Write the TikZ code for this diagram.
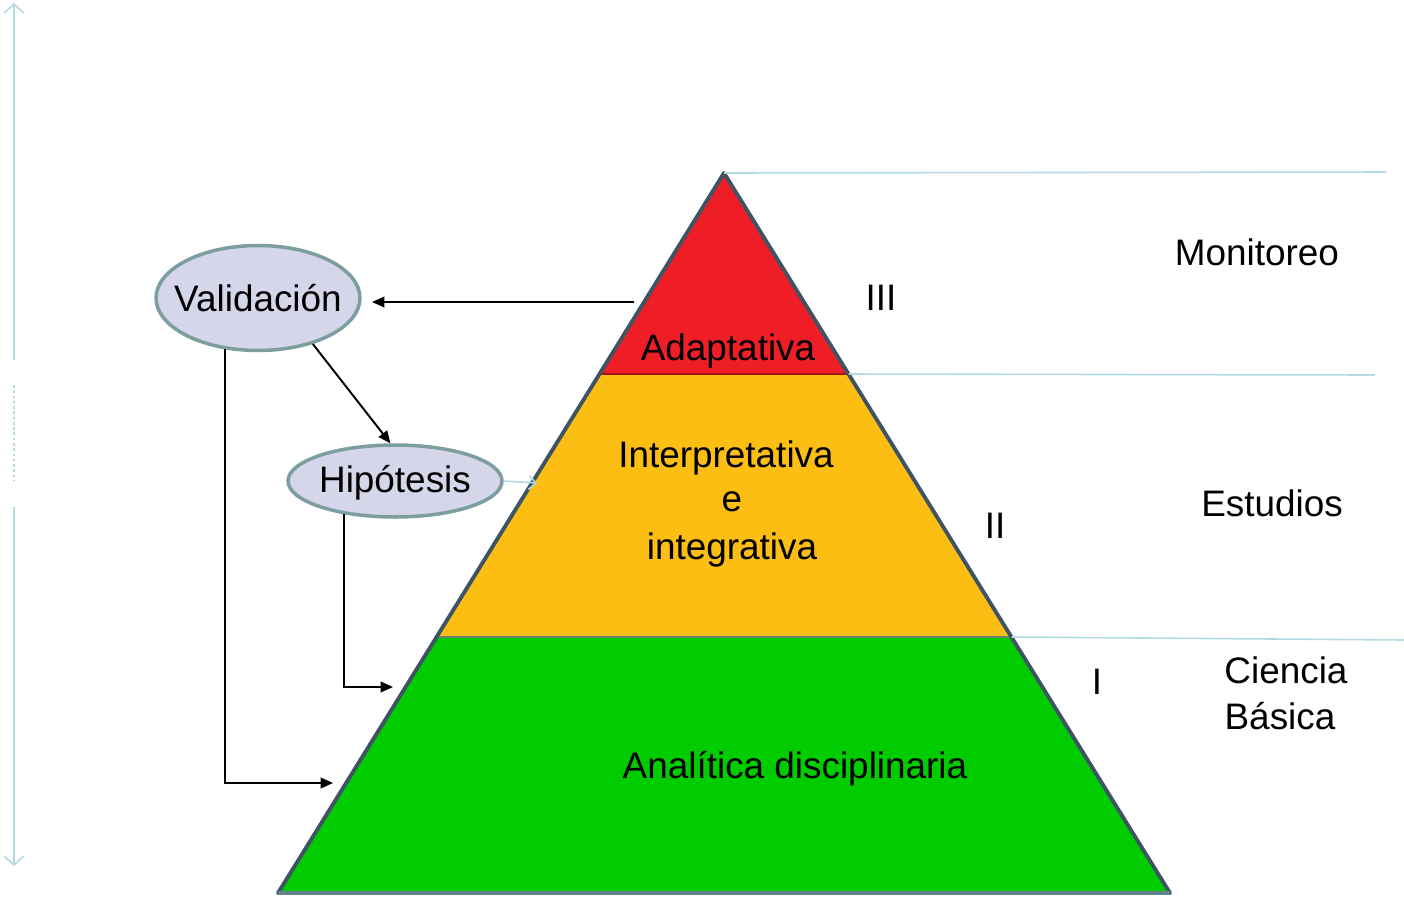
\documentclass[tikz,border=0pt]{standalone}
\usepackage{fontspec}
\setmainfont{Liberation Sans}
\usetikzlibrary{arrows.meta,shapes.geometric}
\definecolor{pred}{RGB}{238,29,38}
\definecolor{pyel}{RGB}{252,190,18}
\definecolor{pgrn}{RGB}{0,204,0}
\definecolor{pedge}{RGB}{62,84,100}
\definecolor{lblue}{RGB}{178,218,224}
\definecolor{ovfill}{RGB}{214,214,234}
\definecolor{ovdraw}{RGB}{125,158,158}
\tikzset{
  lbl/.style={font=\fontsize{21}{25}\selectfont, text=black, inner sep=0pt},
  oval/.style={ellipse, draw=ovdraw, line width=2pt, fill=ovfill, inner sep=0pt},
  arr/.style={draw=black, line width=1.1pt, -{Triangle[length=7pt,width=6pt]}},
  guide/.style={draw=lblue, line width=0.9pt}
}
\begin{document}
\begin{tikzpicture}[x=0.02cm,y=-0.02cm]
\useasboundingbox (0,0) rectangle (1404,897);
% pyramid vertices
\coordinate (apex) at (724,173);
\coordinate (bl) at (278,893);
\coordinate (br) at (1170,893);
\coordinate (l1) at (599.5,374);
\coordinate (r1) at (848.5,374);
\coordinate (l2) at (436.5,637);
\coordinate (r2) at (1011.5,637);
% bands
\fill[pred] (apex) -- (r1) -- (l1) -- cycle;
\fill[pyel] (l1) -- (r1) -- (r2) -- (l2) -- cycle;
\fill[pgrn] (l2) -- (r2) -- (br) -- (bl) -- cycle;
\draw[draw={rgb,255:red,170;green,20;blue,20}, line width=1.5pt] (l1) -- (r1);
\draw[draw={rgb,255:red,110;green,130;blue,110}, line width=1.2pt] (l2) -- (r2);
\draw[pedge, line width=2.2pt, line join=round] (apex) -- (br) -- (bl) -- cycle;
\draw[draw={rgb,255:red,100;green,130;blue,140}, line width=2.5pt] (bl) -- (br);
% guide lines at right
\coordinate (g1) at (1386,172);
\coordinate (g2) at (1375,375);
\coordinate (g3) at (1404,640);
\draw[guide] (apex) -- (g1);
\draw[guide] (r1) -- (g2);
\draw[guide] (r2) -- (g3);
% left vertical arrow
\coordinate (t0) at (14,3);
\coordinate (t1) at (14,360);
\coordinate (t2) at (14,385);
\coordinate (t3) at (14,480);
\coordinate (t4) at (14,507);
\coordinate (t5) at (14,866);
\draw[guide, {Straight Barb[length=5pt,width=11pt]}-] (t0) -- (t1);
\draw[guide, dash pattern=on 1.5pt off 1.5pt] (t2) -- (t3);
\draw[guide, -{Straight Barb[length=5pt,width=11pt]}] (t4) -- (t5);
% ovals
\node[oval, minimum width=4.08cm, minimum height=2.1cm] (val) at (258,298) {};
\node[lbl] (valt) at (val) {Validación};
\node[oval, minimum width=4.28cm, minimum height=1.44cm] (hyp) at (395,481) {};
\node[lbl] (hypt) at (395,483) {Hipótesis};
% level texts
\node[lbl] (tA) at (728,351) {Adaptativa};
\node[lbl] (tI1) at (726,458) {Interpretativa};
\node[lbl] (tI2) at (732,502) {e};
\node[lbl] (tI3) at (732,550) {integrativa};
\node[lbl] (tAn) at (795,769) {Analítica disciplinaria};
\node[lbl] (r3) at (881,298) {III};
\node[lbl] (r2n) at (995,526) {II};
\node[lbl] (r1n) at (1097,682) {I};
\node[lbl] (mon) at (1257,252) {Monitoreo};
\node[lbl] (est) at (1272,503) {Estudios};
\node[lbl] (cie) at (1286,670) {Ciencia};
\node[lbl] (bas) at (1280,716) {Básica};
% connectors
\coordinate (pA) at (634,302);
\coordinate (pV) at (372,302);
\coordinate (pG) at (333,783);
\coordinate (pY) at (393,687);
\coordinate (pH) at (537,483);
\draw[arr] (pA) -- (pV);
\draw[arr] (val.-40) -- (hyp.97);
\draw[arr] (val.237) |- (pG);
\draw[arr] (hyp.213) |- (pY);
\draw[guide, -{Straight Barb[length=4pt,width=8pt]}] (hyp.east) -- (pH);
\end{tikzpicture}
\end{document}
